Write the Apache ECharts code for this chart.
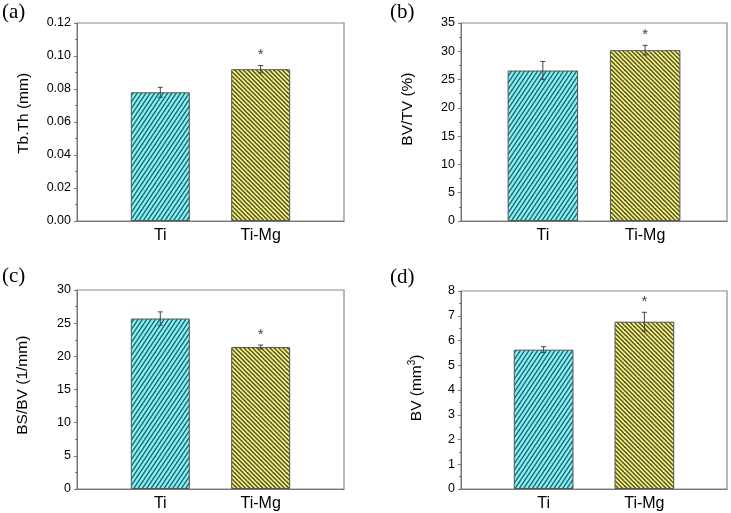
<!DOCTYPE html>
<html>
<head>
<meta charset="utf-8">
<script src="https://cdn.jsdelivr.net/npm/echarts@6/dist/echarts.min.js"></script>
<style>html,body{margin:0;padding:0;background:#fff}#c{width:731px;height:513px}</style>
</head>
<body>
<div id="c"></div>
<script>
// ---- data ----
const categories = ['Ti', 'Ti-Mg'];
const tbThMean = [0.078, 0.092];
const tbThErr  = [0.003, 0.0022];
const bvtvMean = [26.6, 30.2];
const bvtvErr  = [1.6, 0.85];
const bsbvMean = [25.7, 21.4];
const bsbvErr  = [1.0, 0.3];
const bvMean   = [5.63, 6.76];
const bvErr    = [0.12, 0.38];
const starred  = [false, true];
const panelLetters = ['(a)', '(b)', '(c)', '(d)'];
const yNames = ['Tb.Th (mm)', 'BV/TV (%)', 'BS/BV (1/mm)', 'BV (mm{sup|3})'];
const yMaxs = [0.12, 35, 30, 8];
const yIntervals = [0.02, 5, 5, 1];

// ---- hatch patterns ----
function hatch(bg, fg, dir) {
  const N = 13, p = N / 3;
  const c = document.createElement('canvas');
  c.width = N; c.height = N;
  const g = c.getContext('2d');
  g.fillStyle = bg; g.fillRect(0, 0, N, N);
  g.strokeStyle = fg; g.lineWidth = 1.4;
  for (let k = -4; k <= 8; k++) {
    const o = k * p;
    g.beginPath();
    if (dir === '/') { g.moveTo(o - N, N + N); g.lineTo(o + N, -N); }
    else { g.moveTo(o - N, -N); g.lineTo(o + N, N); }
    g.stroke();
  }
  return { image: c, repetition: 'repeat' };
}
const fills = [hatch('#84f4f4', '#266474', '/'), hatch('#f7f37e', '#50502a', '\\')];

const FONT = 'Liberation Sans, Arial, sans-serif';
const panels = [
  { mean: tbThMean, err: tbThErr, grid: { left: 77, top: 23, width: 267, height: 198 }, xr: [0.17, 2.83], bw: 59, gap: 45, lead: 4, dec: 2 },
  { mean: bvtvMean, err: bvtvErr, grid: { left: 461, top: 23, width: 266, height: 198 }, xr: [0.2, 2.8], bw: 70.5, gap: 45, lead: 6, dec: 0 },
  { mean: bsbvMean, err: bsbvErr, grid: { left: 77, top: 290, width: 267, height: 199 }, xr: [0.17, 2.83], bw: 59, gap: 46, lead: 2, dec: 0 },
  { mean: bvMean, err: bvErr, grid: { left: 461, top: 291, width: 266, height: 198 }, xr: [0.18, 2.82], bw: 59.7, gap: 35, lead: 1, dec: 0 }
];

const option = { animation: false, grid: [], xAxis: [], yAxis: [], series: [], graphic: [] };
const letterPos = [[2, 2], [390, 2], [2, 266], [390, 267]];

panels.forEach((P, i) => {
  option.grid.push(Object.assign({ show: true, borderColor: '#8a8a8a', borderWidth: 1.2, backgroundColor: 'transparent' }, P.grid));
  option.xAxis.push({
    type: 'value', gridIndex: i, min: P.xr[0], max: P.xr[1],
    axisLine: { show: true, lineStyle: { color: '#777', width: 1 } },
    axisTick: { show: false }, splitLine: { show: false },
    axisLabel: {
      customValues: categories.map((_, j) => j + 1),
      formatter: v => categories[Math.round(v) - 1] || '',
      fontSize: 16, color: '#000', fontFamily: FONT, margin: 7
    }
  });
  option.yAxis.push({
    type: 'value', gridIndex: i, min: 0, max: yMaxs[i], interval: yIntervals[i],
    name: '\u00a0'.repeat(P.lead) + yNames[i], nameLocation: 'middle', nameGap: P.gap,
    nameTextStyle: { fontSize: 15.5, color: '#000', fontFamily: FONT,
      rich: {
        sup: { fontSize: 10, verticalAlign: 'top', padding: [0, 0, 9, 0], color: '#000', fontFamily: FONT }
      } },
    axisLine: { show: true, lineStyle: { color: '#777', width: 1 } },
    axisTick: { show: true, inside: false, length: 3, lineStyle: { color: '#777' } },
    minorTick: { show: true, splitNumber: 2, length: 2, lineStyle: { color: '#777' } },
    splitLine: { show: false },
    axisLabel: { fontSize: 12.5, color: '#000', fontFamily: FONT, margin: 6,
      formatter: v => v.toFixed(P.dec) }
  });
  option.series.push({
    type: 'bar', xAxisIndex: i, yAxisIndex: i, barWidth: P.bw,
    data: P.mean.map((m, j) => ({ value: [j + 1, m], itemStyle: { color: fills[j], borderColor: '#555', borderWidth: 1 } }))
  });
  option.series.push({
    type: 'custom', xAxisIndex: i, yAxisIndex: i, z: 5,
    data: P.mean.map((m, j) => [j + 1, m, P.err[j], starred[j] ? 1 : 0]),
    renderItem: (params, api) => {
      const x = api.value(0), m = api.value(1), e = api.value(2);
      const t = api.coord([x, m + e]), b = api.coord([x, m - e]);
      const st = { stroke: '#444', lineWidth: 1 };
      const ch = [
        { type: 'line', shape: { x1: t[0], y1: t[1], x2: b[0], y2: b[1] }, style: st },
        { type: 'line', shape: { x1: t[0] - 2.5, y1: t[1], x2: t[0] + 2.5, y2: t[1] }, style: st },
        { type: 'line', shape: { x1: b[0] - 2.5, y1: b[1], x2: b[0] + 2.5, y2: b[1] }, style: st }
      ];
      if (api.value(3)) {
        ch.push({ type: 'text', style: { text: '*', x: t[0], y: t[1] - 3, align: 'center', verticalAlign: 'bottom', fontSize: 15, fill: '#444', fontFamily: FONT } });
      }
      return { type: 'group', children: ch };
    }
  });
  option.graphic.push({ type: 'text', left: letterPos[i][0], top: letterPos[i][1],
    style: { text: panelLetters[i], fontSize: 21, fontFamily: 'Liberation Serif, Times New Roman, serif', fill: '#000' } });
});

const chart = echarts.init(document.getElementById('c'), null, { renderer: 'canvas' });
chart.setOption(option);
</script>
</body>
</html>
